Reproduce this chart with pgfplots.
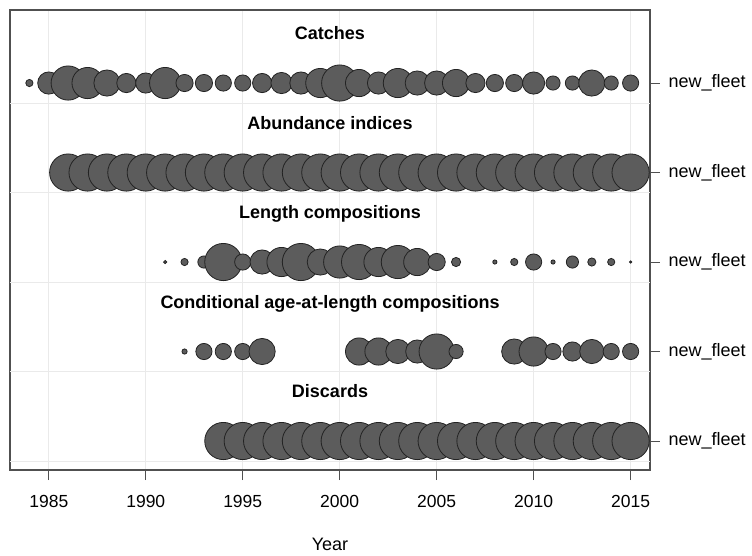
\documentclass[border=0pt]{standalone}
\usepackage{pgfplots}
\pgfplotsset{compat=1.18}
\usepackage{pgfplotstable}
\usepackage{fontspec}
\setmainfont{Liberation Sans}

\definecolor{bubblefill}{RGB}{92,92,92}
\definecolor{bubbleedge}{RGB}{35,35,35}
\definecolor{gridgray}{RGB}{234,234,234}
\definecolor{framegray}{RGB}{80,80,80}

% bubble diameters (pt) by year, one table per data type
\pgfplotstableread{
year d
1984 8
1985 23
1986 35
1987 32
1988 27
1989 20
1990 21
1991 32
1992 18
1993 18
1994 17
1995 17
1996 20
1997 22
1998 23
1999 30
2000 37
2001 28
2002 23
2003 30
2004 25
2005 25
2006 28
2007 20
2008 18
2009 18
2010 23
2011 15
2012 15
2013 27
2014 15
2015 17
}\catches

\pgfplotstableread{
year d
1986 38
1987 38
1988 38
1989 38
1990 38
1991 38
1992 38
1993 38
1994 38
1995 38
1996 38
1997 38
1998 38
1999 38
2000 38
2001 38
2002 38
2003 38
2004 38
2005 38
2006 38
2007 38
2008 38
2009 38
2010 38
2011 38
2012 38
2013 38
2014 38
2015 38
}\indices

\pgfplotstableread{
year d
1991 4
1992 8
1993 13
1994 38
1995 17
1996 25
1997 30
1998 38
1999 27
2000 33
2001 36
2002 30
2003 34
2004 28
2005 18
2006 10
2008 5
2009 8
2010 17
2011 5
2012 13
2013 9
2014 8
2015 3
}\lencomp

\pgfplotstableread{
year d
1992 6
1993 17
1994 17
1995 17
1996 27
2001 28
2002 28
2003 25
2004 24
2005 36
2006 15
2009 26
2010 30
2011 17
2012 20
2013 25
2014 17
2015 17
}\agecomp

\pgfplotstableread{
year d
1994 38
1995 38
1996 38
1997 38
1998 38
1999 38
2000 38
2001 38
2002 38
2003 38
2004 38
2005 38
2006 38
2007 38
2008 38
2009 38
2010 38
2011 38
2012 38
2013 38
2014 38
2015 38
}\discards

\pgfplotsset{
  bubbles/.style={
    scatter, only marks, mark=*,
    point meta=explicit,
    scatter/use mapped color={draw=bubbleedge, fill=bubblefill},
    mark options={line width=0.8pt},
    visualization depends on={\thisrow{d}/2-0.4 \as \rad},
    scatter/@pre marker code/.append style={/tikz/mark size=\rad},
  },
}
\tikzset{rowtitle/.style={anchor=base, font=\bfseries\fontsize{18}{21}\selectfont}}

\begin{document}
\begin{tikzpicture}
\begin{axis}[
  scale only axis, width=640pt, height=460pt,
  xmin=1983, xmax=2016, ymin=0.676, ymax=5.816,
  clip=false,
  point meta min=0, point meta max=1,
  axis line style={framegray, line width=1.2pt},
  xtick={1985,1990,...,2015},
  ytick={1,2,3,4,5},
  yticklabels={new\_fleet,new\_fleet,new\_fleet,new\_fleet,new\_fleet},
  xtick pos=lower, ytick pos=right,
  yticklabel pos=right,
  tick align=outside,
  major tick length=10pt,
  tick style={framegray, line width=1pt},
  xmajorgrids,
  major grid style={gridgray, line width=0.8pt},
  extra y ticks={0.777,1.777,2.777,3.777,4.777},
  extra y tick labels={},
  extra y tick style={ymajorgrids, major tick length=0pt, major grid style={gridgray, line width=0.8pt}},
  /pgf/number format/1000 sep={},
  /pgf/number format/assume math mode=true,
  xticklabel style={font=\fontsize{17.5}{20}\selectfont, yshift=-12pt},
  yticklabel style={font=\fontsize{18}{21}\selectfont, xshift=5pt},
]
\addplot[bubbles] table[x=year, y expr=5, meta expr=0.5] {\catches};
\addplot[bubbles] table[x=year, y expr=4, meta expr=0.5] {\indices};
\addplot[bubbles] table[x=year, y expr=3, meta expr=0.5] {\lencomp};
\addplot[bubbles] table[x=year, y expr=2, meta expr=0.5] {\agecomp};
\addplot[bubbles] table[x=year, y expr=1, meta expr=0.5] {\discards};

\node[rowtitle] at (axis cs:1999.5,5.485) {Catches};
\node[rowtitle] at (axis cs:1999.5,4.485) {Abundance indices};
\node[rowtitle] at (axis cs:1999.5,3.485) {Length compositions};
\node[rowtitle] at (axis cs:1999.5,2.485) {Conditional age-at-length compositions};
\node[rowtitle] at (axis cs:1999.5,1.485) {Discards};

\node[anchor=base, font=\fontsize{18}{21}\selectfont] at (rel axis cs:0.5,0) [yshift=-80pt] {Year};

\coordinate (sw) at (rel axis cs:0,0);
\coordinate (ne) at (rel axis cs:1,1);
\end{axis}
\pgfresetboundingbox
\path ([shift={(-10pt,-85pt)}]sw) rectangle ([shift={(102pt,10pt)}]ne);
\end{tikzpicture}
\end{document}
